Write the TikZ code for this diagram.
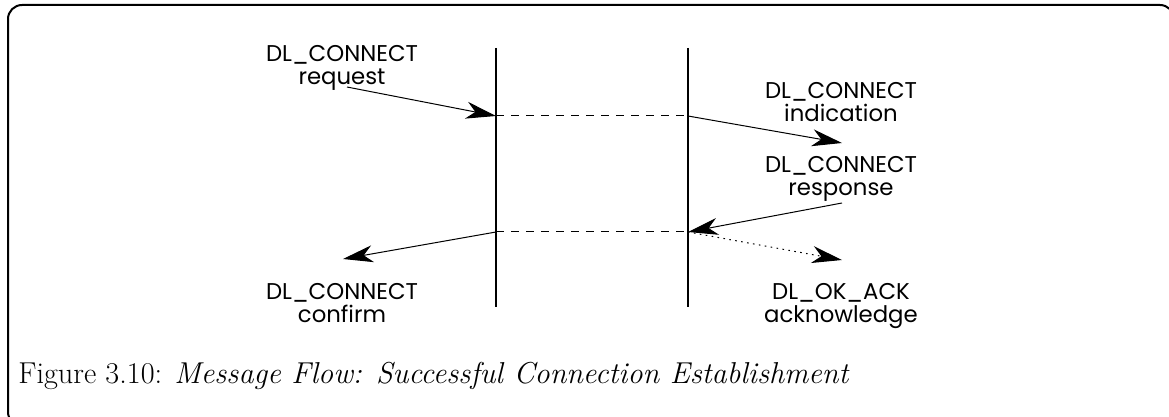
\documentclass[tikz,border=0pt]{standalone}
\usepackage{fontspec}
\usepackage{tikz}
\usetikzlibrary{arrows.meta}
\newfontfamily\msgfamily{Poppins}
\newcommand{\msgfont}{\fontsize{11.4}{11.5}\selectfont\msgfamily}

\begin{document}
\begin{tikzpicture}[x=5pt,y=-5pt,
	lbl/.style={font=\msgfont,align=center,anchor=base,inner sep=0pt},
	msg/.style={-{Stealth[length=15pt,width=8.5pt,inset=4.5pt]},line width=.5pt},
	life/.style={line width=1pt}]
	\useasboundingbox (0,0) rectangle (116.9,41.7);
	\clip (0,0) rectangle (116.9,41.7);
	\draw[line width=1pt,rounded corners=7pt] (0.8,0.5) rectangle (117.4,42.6);
	% the two lifelines
	\draw[life] (49.6,4.8) -- (49.6,30.7) (68.8,4.8) -- (68.8,30.7);
	\coordinate (L1) at (49.6,11.6);
	\coordinate (R1) at (68.8,11.6);
	\coordinate (L2) at (49.6,23.2);
	\coordinate (R2) at (68.8,23.2);
	\draw[dash pattern=on 4pt off 3.5pt,line width=.5pt] (L1) -- (R1) (L2) -- (R2);
	% primitives (base = last line)
	\node[lbl] (req) at (34.2,8.5) {DL\_CONNECT\\request};
	\node[lbl] (ind) at (84.1,12.2) {DL\_CONNECT\\indication};
	\node[lbl] (rsp) at (84.1,19.6) {DL\_CONNECT\\response};
	\node[lbl] (cnf) at (34.2,32.2) {DL\_CONNECT\\confirm};
	\node[lbl] (ack) at (84.1,32.2) {DL\_OK\_ACK\\acknowledge};
	\coordinate (reqend) at (34.7,8.7);
	\coordinate (indend) at (84.2,14.3);
	\coordinate (rspend) at (84.2,20.3);
	\coordinate (cnfend) at (34.3,25.9);
	\coordinate (ackend) at (84.2,26.0);
	\draw[msg] (reqend) -- (L1);
	\draw[msg] (R1) -- (indend);
	\draw[msg] (rspend) -- (R2);
	\draw[msg] (L2) -- (cnfend);
	\draw[msg,dash pattern=on .8pt off 2.2pt] (R2) -- (ackend);
	\node[anchor=base west,inner sep=0pt,font=\fontsize{15.1}{17}\selectfont] (cap) at (1.8,38.3)
		{Figure 3.10: \textit{Message Flow: Successful Connection Establishment}};
\end{tikzpicture}
\end{document}
